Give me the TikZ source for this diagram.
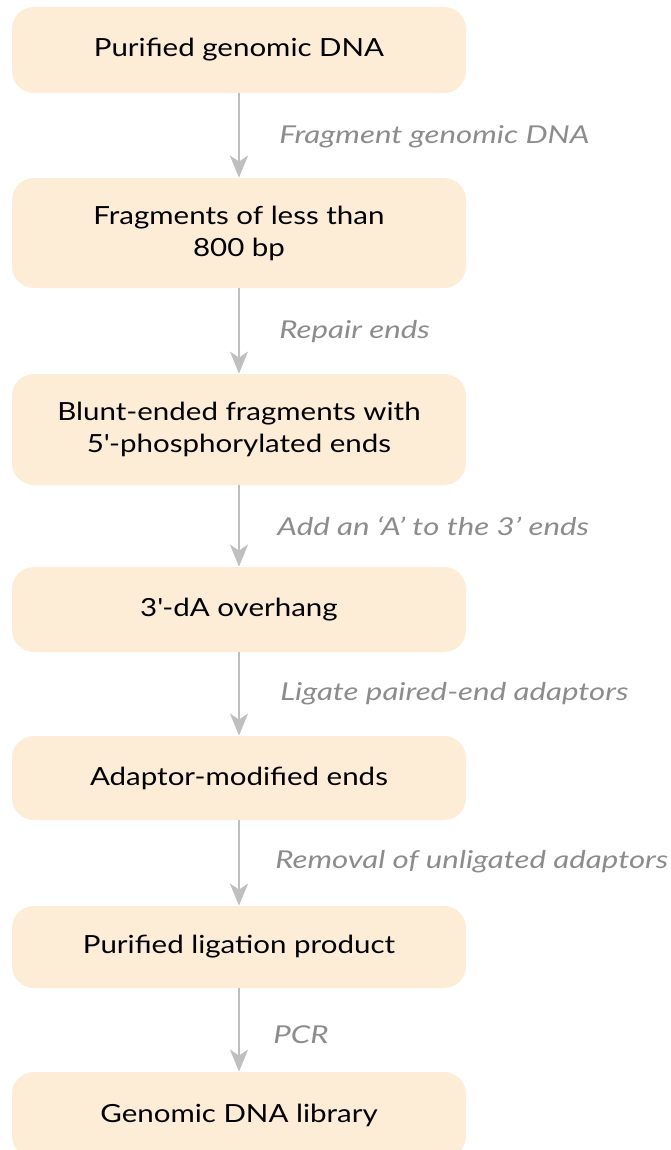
\documentclass[tikz,border=0pt]{standalone}
\usepackage{fontspec}
\setmainfont[FakeStretch=1.18]{Lato}
\newfontfamily\labelfont[FakeStretch=1.27]{Lato}
\usetikzlibrary{arrows.meta}
\definecolor{boxfill}{HTML}{FDECD6}
\definecolor{arrowgray}{HTML}{BFBFC1}
\definecolor{labelgray}{HTML}{8C8C8C}
\tikzset{
  stepbox/.style={fill=boxfill, draw=none, rounded corners=11pt, minimum width=227pt,
    align=center, font=\fontsize{12.5}{16}\selectfont, text=black, inner sep=0pt},
  flowarrow/.style={draw=arrowgray, line width=1pt, -{Stealth[length=11pt,width=9pt,inset=3pt]}},
  steplabel/.style={anchor=west, font=\labelfont\fontsize{12.3}{16}\selectfont\itshape, text=labelgray, inner sep=0pt}
}
\begin{document}
\begin{tikzpicture}[x=0.5pt,y=-0.5pt]
\useasboundingbox (0,0) rectangle (670,1150);
\node[stepbox, minimum height=43pt] (b1) at (239,50) {Purified genomic DNA};
\node[stepbox, minimum height=55pt] (b2) at (239,233) {Fragments of less than\\800 bp};
\node[stepbox, minimum height=55.5pt] (b3) at (239,429.5) {Blunt-ended fragments with\\5\textquotesingle-phosphorylated ends};
\node[stepbox, minimum height=42.5pt] (b4) at (239,609.5) {3\textquotesingle-dA overhang};
\node[stepbox, minimum height=42pt] (b5) at (239,778) {Adaptor-modified ends};
\node[stepbox, minimum height=41pt] (b6) at (239,947) {Purified ligation product};
\node[stepbox, minimum height=43pt] (b7) at (239,1115) {Genomic DNA library};

\draw[flowarrow] (b1.south) -- (b2.north);
\draw[flowarrow] (b2.south) -- (b3.north);
\draw[flowarrow] (b3.south) -- (b4.north);
\draw[flowarrow] (b4.south) -- (b5.north);
\draw[flowarrow] (b5.south) -- (b6.north);
\draw[flowarrow] (b6.south) -- (b7.north);

\node[steplabel] (l1) at (279,137) {Fragment genomic DNA};
\node[steplabel] (l2) at (279,332) {Repair ends};
\node[steplabel] (l3) at (277,526) {Add an ‘A’ to the 3’ ends};
\node[steplabel] (l4) at (280,694) {Ligate paired-end adaptors};
\node[steplabel] (l5) at (275,862) {Removal of unligated adaptors};
\node[steplabel] (l6) at (273,1035) {PCR};
\end{tikzpicture}
\end{document}
